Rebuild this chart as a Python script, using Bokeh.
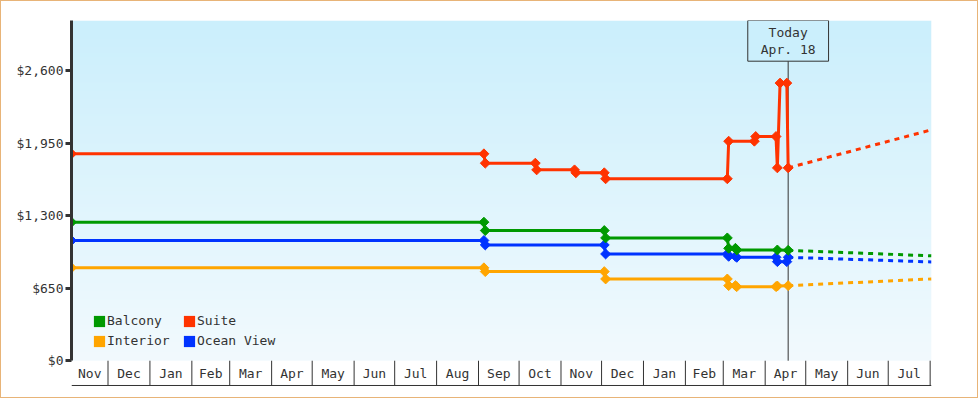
import numpy as np
import pandas as pd
from bokeh.plotting import figure
from bokeh.models import Range1d, LinearAxis, FixedTicker, Legend, LegendItem, Label, ColumnDataSource
from bokeh.core.properties import value
from bokeh.embed import file_html
from bokeh.resources import INLINE

# ---------------- data ----------------
balcony_dates = ["2017-11-04", "2018-09-05", "2018-09-06", "2018-12-03", "2018-12-04", "2019-03-04",
                 "2019-03-05", "2019-03-10", "2019-03-11", "2019-04-10", "2019-04-18"]
balcony_prices = [1242, 1242, 1167, 1167, 1101, 1101, 1008, 1008, 993, 993, 990]

suite_dates = ["2017-11-04", "2018-09-05", "2018-09-06", "2018-10-13", "2018-10-14", "2018-11-11",
               "2018-11-12", "2018-12-03", "2018-12-04", "2019-03-04", "2019-03-05", "2019-03-24",
               "2019-03-25", "2019-04-09", "2019-04-10", "2019-04-12", "2019-04-17", "2019-04-18"]
suite_prices = [1855, 1855, 1771, 1771, 1711, 1711, 1685, 1685, 1631, 1631, 1968, 1968,
                2010, 2010, 1729, 2489, 2489, 1729]

interior_dates = ["2017-11-04", "2018-09-05", "2018-09-06", "2018-12-03", "2018-12-04", "2019-03-04",
                  "2019-03-05", "2019-03-10", "2019-03-11", "2019-04-09", "2019-04-10", "2019-04-18"]
interior_prices = [833, 833, 799, 799, 733, 733, 673, 673, 664, 664, 670, 673]

ocean_dates = ["2017-11-04", "2018-09-05", "2018-09-06", "2018-12-03", "2018-12-04", "2019-03-04",
               "2019-03-05", "2019-03-10", "2019-03-11", "2019-04-09", "2019-04-10", "2019-04-17",
               "2019-04-18"]
ocean_prices = [1078, 1078, 1038, 1038, 957, 957, 936, 936, 927, 927, 888, 888, 927]

forecast_dates = ["2019-04-18", "2019-08-02"]
balcony_forecast = [990, 940]
suite_forecast = [1729, 2070]
interior_forecast = [673, 733]
ocean_forecast = [927, 886]

series_names = ["Interior", "Ocean View", "Balcony", "Suite"]
series_colors = ["#ffa500", "#0033ff", "#009900", "#ff3300"]

month_labels = ["Nov", "Dec", "Jan", "Feb", "Mar", "Apr", "May", "Jun", "Jul", "Aug", "Sep",
                "Oct", "Nov", "Dec", "Jan", "Feb", "Mar", "Apr", "May", "Jun", "Jul"]
month_starts = ["2017-11-01", "2017-12-01", "2018-01-01", "2018-02-01", "2018-03-01", "2018-04-01",
                "2018-05-01", "2018-06-01", "2018-07-01", "2018-08-01", "2018-09-01", "2018-10-01",
                "2018-11-01", "2018-12-01", "2019-01-01", "2019-02-01", "2019-03-01", "2019-04-01",
                "2019-05-01", "2019-06-01", "2019-07-01"]

price_ticks = [0, 650, 1300, 1950, 2600]
price_tick_labels = ["$0", "$650", "$1,300", "$1,950", "$2,600"]

today_date = "2019-04-18"
today_text = "Today\nApr. 18"

x_start_date = "2017-11-04"
x_end_date = "2019-08-02"

# ---------------- helpers ----------------
FONT = "DejaVu Sans Mono"
INK = "#333333"


def ms(d):
    return pd.Timestamp(d).value / 1e6


X0, X1 = ms(x_start_date), ms(x_end_date)
Y0, Y1 = -240, 3050
BAND_BOTTOM = -222
BAND_LABEL_Y = -115

p = figure(width=978, height=398, output_backend="svg", toolbar_location=None,
           x_range=Range1d(X0, X1), y_range=Range1d(Y0, Y1),
           x_axis_type=None, y_axis_type=None,
           min_border_left=70, min_border_right=48, min_border_top=19, min_border_bottom=12,
           background_fill_color="white", border_fill_color="white", outline_line_color=None,
           styles={"border": "1px solid #e8b478"})

# gradient background for the price area
n = 256
top_c = np.array([203, 239, 252], dtype=float)
bot_c = np.array([242, 250, 254], dtype=float)
t = np.linspace(0, 1, n)[:, None]
cols = bot_c * (1 - t) + top_c * t
img = np.empty((n, 1), dtype=np.uint32)
view = img.view(dtype=np.uint8).reshape((n, 1, 4))
view[:, 0, 0:3] = cols.astype(np.uint8)
view[:, 0, 3] = 255
p.image_rgba(image=[img], x=X0, y=0, dw=X1 - X0, dh=Y1)

# y axis
yaxis = LinearAxis(ticker=FixedTicker(ticks=price_ticks), bounds=(0, Y1))
yaxis.major_label_overrides = {float(tk): lab for tk, lab in zip(price_ticks, price_tick_labels)}
yaxis.axis_line_color = INK
yaxis.axis_line_width = 3
yaxis.major_tick_line_color = INK
yaxis.major_tick_line_width = 3
yaxis.major_tick_in = 0
yaxis.major_tick_out = 6
yaxis.minor_tick_line_color = None
yaxis.major_label_standoff = 2
yaxis.major_label_text_font = FONT
yaxis.major_label_text_font_size = "13px"
yaxis.major_label_text_color = INK
p.add_layout(yaxis, "left")

# month band
starts = pd.to_datetime(month_starts)
ends = starts + pd.offsets.MonthBegin(1)
sep_x = [e.value / 1e6 for e in ends]
centers = [(max(s.value / 1e6, X0) + min(e.value / 1e6, X1)) / 2 for s, e in zip(starts, ends)]
p.segment(x0=sep_x, y0=[BAND_BOTTOM] * len(sep_x), x1=sep_x, y1=[0] * len(sep_x),
          line_color=INK, line_width=1)
p.segment(x0=[X0], y0=[BAND_BOTTOM], x1=[X1], y1=[BAND_BOTTOM], line_color=INK, line_width=1)
p.text(x=centers, y=[BAND_LABEL_Y] * len(centers), text=month_labels,
       text_font=value(FONT), text_font_size="13px", text_color=INK,
       text_align="center", text_baseline="middle")

# today marker
tx = ms(today_date)
p.segment(x0=[tx], y0=[0], x1=[tx], y1=[Y1], line_color=INK, line_width=1)

# series
hist = {
    "Interior": (interior_dates, interior_prices, interior_forecast),
    "Ocean View": (ocean_dates, ocean_prices, ocean_forecast),
    "Balcony": (balcony_dates, balcony_prices, balcony_forecast),
    "Suite": (suite_dates, suite_prices, suite_forecast),
}
proxies = {}
for name, color in zip(series_names, series_colors):
    dates, prices, fc = hist[name]
    xs = [ms(d) for d in dates]
    src = ColumnDataSource(dict(x=xs, y=prices))
    p.line("x", "y", source=src, line_color=color, line_width=3)
    p.scatter("x", "y", source=src, marker="square", angle=np.pi / 4, size=7,
              fill_color=color, line_color=color, line_width=1)
    p.line(x=[ms(d) for d in forecast_dates], y=fc, line_color=color, line_width=3,
           line_dash="5 5")
    # zero-area proxy (at the series' first point) used only for the legend swatch
    proxies[name] = p.quad(left=xs[:1], right=xs[:1], top=prices[:1], bottom=prices[:1],
                           fill_color=color, line_color=None)

legend_order = ["Balcony", "Suite", "Interior", "Ocean View"]
legend = Legend(items=[LegendItem(label=nm, renderers=[proxies[nm]]) for nm in legend_order],
                orientation="horizontal", ncols=2, location=(21, 39),
                glyph_width=14, glyph_height=14, label_standoff=1, label_width=70, spacing=5,
                padding=0, margin=0, background_fill_alpha=0, border_line_color=None,
                label_text_font=FONT, label_text_font_size="13px", label_text_color=INK)
p.add_layout(legend, "center")

# today label box
lab = Label(x=tx, y=Y1, text=today_text, text_align="center", text_baseline="top",
            text_font=FONT, text_font_size="13px", text_color=INK, text_line_height=1.18,
            border_line_color=INK, border_line_width=1,
            background_fill_color="#cbeffc", padding=(13, 4))
p.add_layout(lab)

open("out.html", "w").write(file_html(p, INLINE))
